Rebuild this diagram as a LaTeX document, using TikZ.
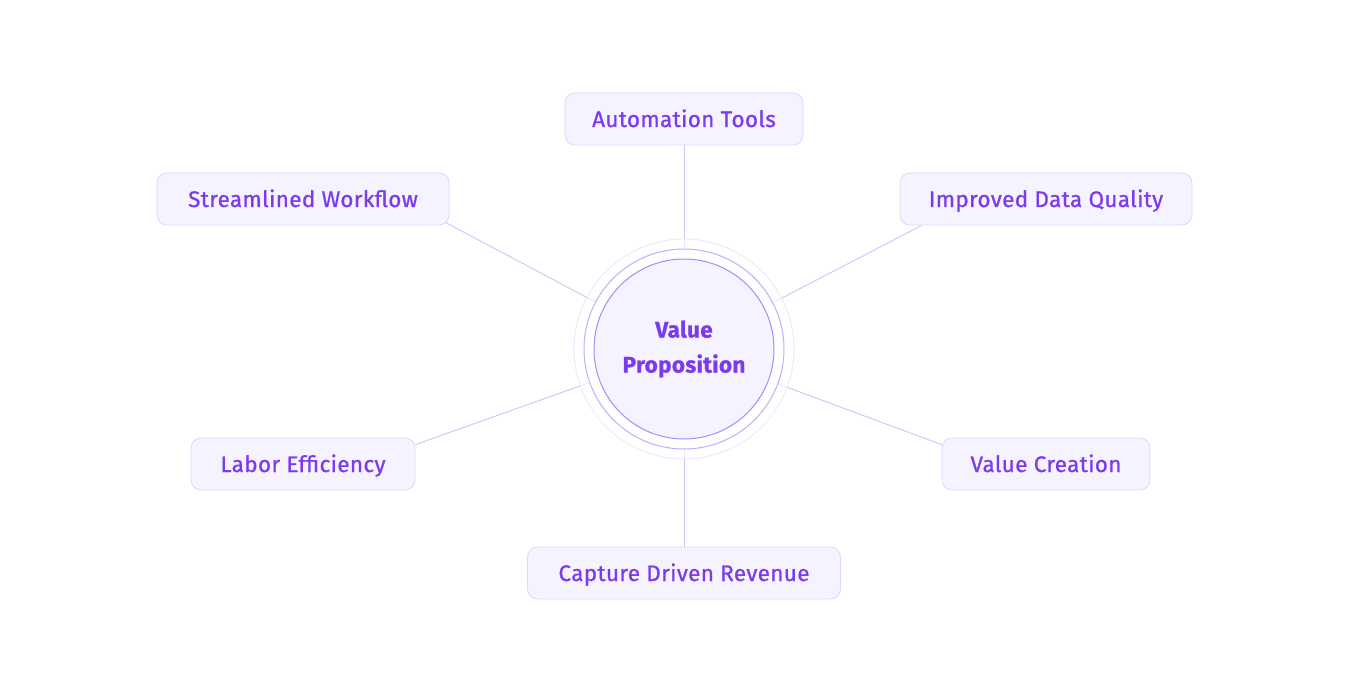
\documentclass[tikz,border=0pt]{standalone}
\usepackage{fontspec}
\setmainfont{Fira Sans}[FakeBold=0.8, LetterSpace=1.5]
\usetikzlibrary{positioning}
\definecolor{vpText}{HTML}{7C3AED}
\definecolor{vpFill}{HTML}{F5F3FF}
\definecolor{vpBorder}{HTML}{DDD6FE}
\definecolor{vpLine}{HTML}{CDC3F7}
\definecolor{vpRing}{HTML}{A78BFA}
\definecolor{vpHalo}{HTML}{ECE8FB}
\tikzset{
  benefit/.style={draw=vpBorder, fill=vpFill, rounded corners=10pt,
    text=vpText, font=\fontsize{22.5}{27}\selectfont, inner xsep=0pt,
    text height=18pt, text depth=2pt,
    minimum height=52pt, line width=0.8pt},
  spoke/.style={draw=vpLine, line width=0.9pt},
}
\begin{document}
\begin{tikzpicture}[x=1pt, y=-1pt]
    \useasboundingbox (0,0) rectangle (1368,692);
    % define nodes
    % hub
    \coordinate (hub) at (684,349);
    % benefits
    \node[benefit, minimum width=238pt] (auto_tools) at (684,119) {Automation Tools};
    \node[benefit, minimum width=292pt] (stream_flow) at (303,199) {Streamlined Workflow};
    \node[benefit, minimum width=292pt] (data_quality) at (1046,199) {Improved Data Quality};
    \node[benefit, minimum width=224pt] (labor_eff) at (303,464) {Labor Efficiency};
    \node[benefit, minimum width=208pt] (value_crea) at (1046,464) {Value Creation};
    \node[benefit, minimum width=313pt] (capture_rev) at (684,573) {Capture Driven Revenue};
    % draw spokes
    \draw[spoke] (hub) -- (auto_tools.south);
    \draw[spoke] (hub) -- ([xshift=-4pt, yshift=3pt]stream_flow.south east);
    \draw[spoke] (hub) -- ([xshift=22pt]data_quality.south west);
    \draw[spoke] (hub) -- ([yshift=-7pt]labor_eff.north east);
    \draw[spoke] (hub) -- ([yshift=-7pt]value_crea.north west);
    \draw[spoke] (hub) -- (capture_rev.north);
    % draw hub rings on top
    \fill[white, fill opacity=0.6] (hub) circle[radius=110];
    \draw[vpHalo, line width=0.9pt] (hub) circle[radius=110];
    \draw[vpRing!70, fill=white, line width=1pt] (hub) circle[radius=100];
    \node[circle, draw=vpRing, fill=vpFill, line width=1pt, minimum size=180pt,
      text=vpText, font=\fontsize{22.5}{35}\selectfont\bfseries, align=center]
      (value_prop) at (hub) {\raisebox{-2pt}{Value}\\\raisebox{-2pt}{Proposition}};
\end{tikzpicture}
\end{document}
